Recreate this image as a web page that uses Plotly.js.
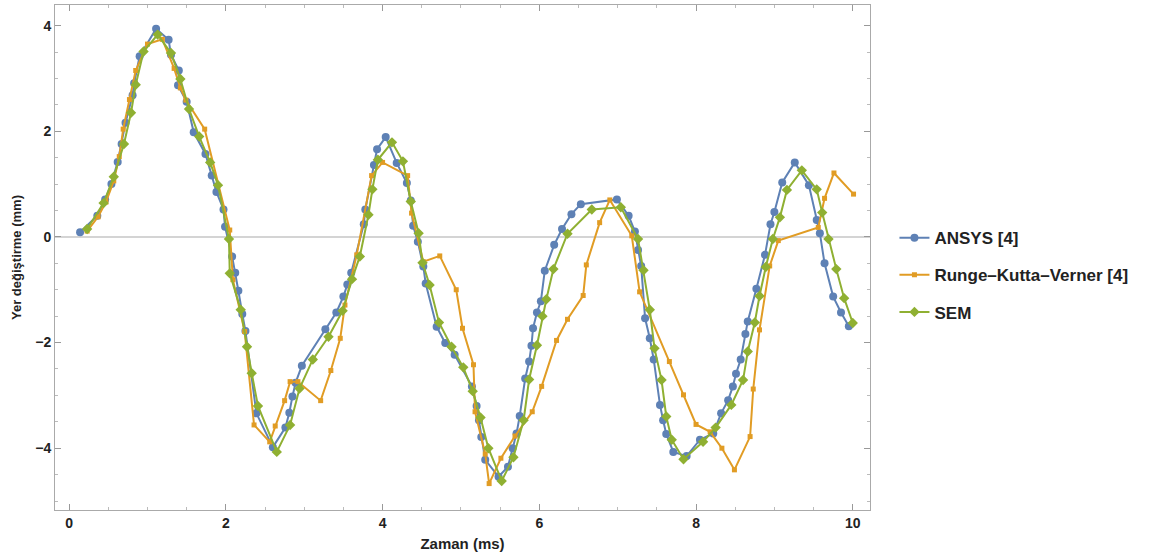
<!DOCTYPE html>
<html>
<head>
<meta charset="utf-8">
<script src="https://cdn.plot.ly/plotly-3.0.1.min.js"></script>
<style>html,body{margin:0;padding:0;background:#fff;}#chart{width:1164px;height:558px;}</style>
</head>
<body>
<div id="chart"></div>
<script>
// ANSYS [4]
const ansysX = [0.14,0.36,0.46,0.54,0.62,0.67,0.72,0.81,0.83,0.90,1.11,1.27,1.30,1.40,1.39,1.50,1.59,1.74,1.82,1.88,1.97,1.99,2.08,2.12,2.16,2.21,2.25,2.39,2.60,2.76,2.81,2.85,2.89,2.97,3.27,3.41,3.50,3.55,3.60,3.76,3.78,3.89,3.93,4.04,4.18,4.31,4.36,4.39,4.45,4.52,4.55,4.69,4.80,4.92,5.14,5.20,5.23,5.26,5.31,5.48,5.60,5.66,5.71,5.75,5.82,5.87,5.90,5.92,5.97,6.02,6.07,6.19,6.29,6.41,6.53,6.99,7.14,7.22,7.26,7.30,7.35,7.41,7.46,7.54,7.58,7.62,7.71,7.88,8.05,8.22,8.32,8.41,8.47,8.51,8.57,8.63,8.66,8.77,8.88,8.95,9.00,9.10,9.26,9.44,9.54,9.58,9.64,9.75,9.85,9.95];
const ansysY = [0.09,0.40,0.71,1.00,1.42,1.76,2.16,2.68,2.91,3.42,3.94,3.73,3.45,3.15,2.87,2.56,1.98,1.57,1.16,0.85,0.52,0.19,-0.37,-0.68,-1.02,-1.46,-1.78,-3.34,-3.98,-3.61,-3.33,-3.02,-2.76,-2.44,-1.75,-1.43,-1.13,-0.90,-0.68,0.24,0.52,1.36,1.66,1.89,1.40,1.02,0.69,0.21,-0.09,-0.56,-0.88,-1.70,-2.01,-2.23,-2.83,-3.20,-3.47,-3.79,-4.22,-4.54,-4.35,-4.00,-3.72,-3.39,-2.68,-2.36,-2.06,-1.73,-1.43,-1.22,-0.64,-0.15,0.15,0.43,0.62,0.71,0.40,0.10,-0.25,-0.55,-1.54,-1.92,-2.32,-3.18,-3.47,-3.73,-4.07,-4.15,-3.84,-3.72,-3.34,-3.09,-2.83,-2.59,-2.32,-1.84,-1.60,-0.98,-0.34,0.24,0.47,1.03,1.41,0.98,0.32,0.07,-0.50,-1.13,-1.43,-1.69];
// Runge-Kutta-Verner [4]
const rkvX = [0.23,0.37,0.47,0.57,0.64,0.69,0.77,0.85,1.00,1.19,1.34,1.42,1.49,1.73,2.05,2.09,2.24,2.36,2.56,2.63,2.75,2.82,2.92,3.21,3.34,3.46,3.52,3.67,3.86,4.00,4.32,4.37,4.52,4.73,4.94,5.02,5.16,5.18,5.31,5.36,5.51,5.69,5.91,6.03,6.22,6.36,6.56,6.60,6.77,6.90,7.18,7.28,7.66,7.84,8.00,8.18,8.33,8.49,8.69,8.73,8.81,8.94,9.05,9.56,9.64,9.76,10.01];
const rkvY = [0.11,0.38,0.66,1.06,1.52,2.04,2.60,3.15,3.65,3.74,3.19,2.82,2.59,2.04,0.13,-0.81,-1.79,-3.56,-3.88,-3.58,-3.10,-2.74,-2.74,-3.10,-2.53,-1.92,-1.29,-0.34,1.16,1.41,1.16,0.45,-0.47,-0.36,-1.00,-1.73,-2.42,-3.31,-4.11,-4.67,-4.19,-3.77,-3.31,-2.83,-1.96,-1.56,-1.11,-0.53,0.27,0.70,0.02,-1.04,-2.36,-2.99,-3.55,-3.69,-4.00,-4.41,-3.78,-2.88,-1.76,-0.55,-0.07,0.18,0.73,1.21,0.81];
// SEM
const semX = [0.23,0.44,0.57,0.70,0.79,0.85,0.95,1.13,1.30,1.42,1.53,1.66,1.80,1.90,2.04,2.05,2.19,2.27,2.33,2.41,2.65,2.82,2.94,3.11,3.31,3.49,3.61,3.71,3.82,3.87,3.94,4.12,4.26,4.36,4.46,4.51,4.60,4.72,4.88,5.03,5.15,5.25,5.35,5.52,5.67,5.80,5.87,5.97,6.04,6.09,6.18,6.36,6.67,7.04,7.26,7.33,7.41,7.47,7.56,7.62,7.69,7.84,8.09,8.25,8.45,8.60,8.66,8.75,8.81,8.89,8.98,9.07,9.16,9.35,9.54,9.61,9.69,9.79,9.89,10.00];
const semY = [0.15,0.64,1.14,1.76,2.35,2.88,3.51,3.83,3.48,2.99,2.42,1.90,1.41,0.98,-0.04,-0.69,-1.38,-2.08,-2.58,-3.20,-4.07,-3.56,-2.87,-2.32,-1.89,-1.40,-0.80,-0.37,0.42,0.90,1.46,1.79,1.43,0.67,0.07,-0.49,-0.91,-1.62,-2.08,-2.47,-2.92,-3.42,-4.00,-4.62,-4.17,-3.47,-2.70,-2.05,-1.50,-1.18,-0.61,0.06,0.52,0.56,-0.04,-0.63,-1.38,-2.11,-2.71,-3.40,-3.84,-4.21,-3.88,-3.61,-3.18,-2.71,-2.17,-1.62,-1.12,-0.57,-0.04,0.37,0.89,1.26,0.90,0.46,-0.04,-0.61,-1.16,-1.63];

const xTickVals = [0,2,4,6,8,10];
const yTickVals = [-4,-2,0,2,4];
const yTickText = ['\u22124','\u22122','0','2','4'];

const names = ['ANSYS [4]','Runge\u2013Kutta\u2013Verner [4]','SEM'];
const colors = ['#5e81b5','#e19c24','#8fb032'];

const traces = [
  {x: ansysX, y: ansysY, name: names[0], legendgroup: 'a', mode: 'lines+markers', type: 'scatter',
   line: {color: colors[0], width: 2}, marker: {symbol: 'circle', size: 8, color: colors[0]}},
  {x: rkvX, y: rkvY, name: names[1], legendgroup: 'b', mode: 'lines+markers', type: 'scatter',
   line: {color: colors[1], width: 2}, marker: {symbol: 'square', size: 5, color: colors[1]}},
  {x: semX, y: semY, name: names[2], legendgroup: 'c', mode: 'lines+markers', type: 'scatter',
   line: {color: colors[2], width: 2}, marker: {symbol: 'diamond', size: 8, color: colors[2]}}
];

const tickFont = {family: 'Liberation Sans Narrow, Arial Narrow, Liberation Sans, sans-serif', size: 14, color: '#222', weight: 'bold'};

const layout = {
  width: 1164, height: 558,
  margin: {l: 55, r: 294, t: 5, b: 48},
  paper_bgcolor: '#fff', plot_bgcolor: '#fff',
  showlegend: true,
  legend: {x: 1.03, y: 0.465, xanchor: 'left', yanchor: 'middle',
    traceorder: 'grouped', tracegroupgap: 12,
    font: {family: 'Liberation Sans, Arial, sans-serif', size: 17, color: '#222', weight: 'bold'},
    itemwidth: 30, bgcolor: 'rgba(0,0,0,0)'},
  xaxis: {
    range: [-0.18, 10.22], tickvals: xTickVals, ticktext: xTickVals.map(String),
    ticks: 'inside', ticklen: 6, tickcolor: '#999', tickwidth: 1,
    minor: {ticks: 'inside', dtick: 0.5, tick0: 0, ticklen: 3, tickcolor: '#bbb', showgrid: false},
    showline: true, linecolor: '#aaa', linewidth: 1, mirror: 'ticks',
    showgrid: false, zeroline: false,
    tickfont: tickFont,
    title: {text: '<b>Zaman (ms)</b>', font: {family: 'Liberation Sans Narrow, Arial Narrow, sans-serif', size: 15, color: '#222'}, standoff: 8}
  },
  yaxis: {
    range: [-5.17, 4.39], tickvals: yTickVals, ticktext: yTickText,
    ticks: 'inside', ticklen: 6, tickcolor: '#999', tickwidth: 1,
    minor: {ticks: 'inside', dtick: 0.5, tick0: 0, ticklen: 3, tickcolor: '#bbb', showgrid: false},
    showline: true, linecolor: '#aaa', linewidth: 1, mirror: 'ticks',
    showgrid: false, zeroline: true, zerolinecolor: '#d4d4d4', zerolinewidth: 1.5,
    tickfont: tickFont,
    title: {text: '<b>Yer de\u011fi\u015ftirme (mm)</b>', font: {family: 'Liberation Sans, Arial, sans-serif', size: 13, color: '#222'}, standoff: 10}
  }
};

Plotly.newPlot('chart', traces, layout, {displayModeBar: false, staticPlot: true});
</script>
</body>
</html>
